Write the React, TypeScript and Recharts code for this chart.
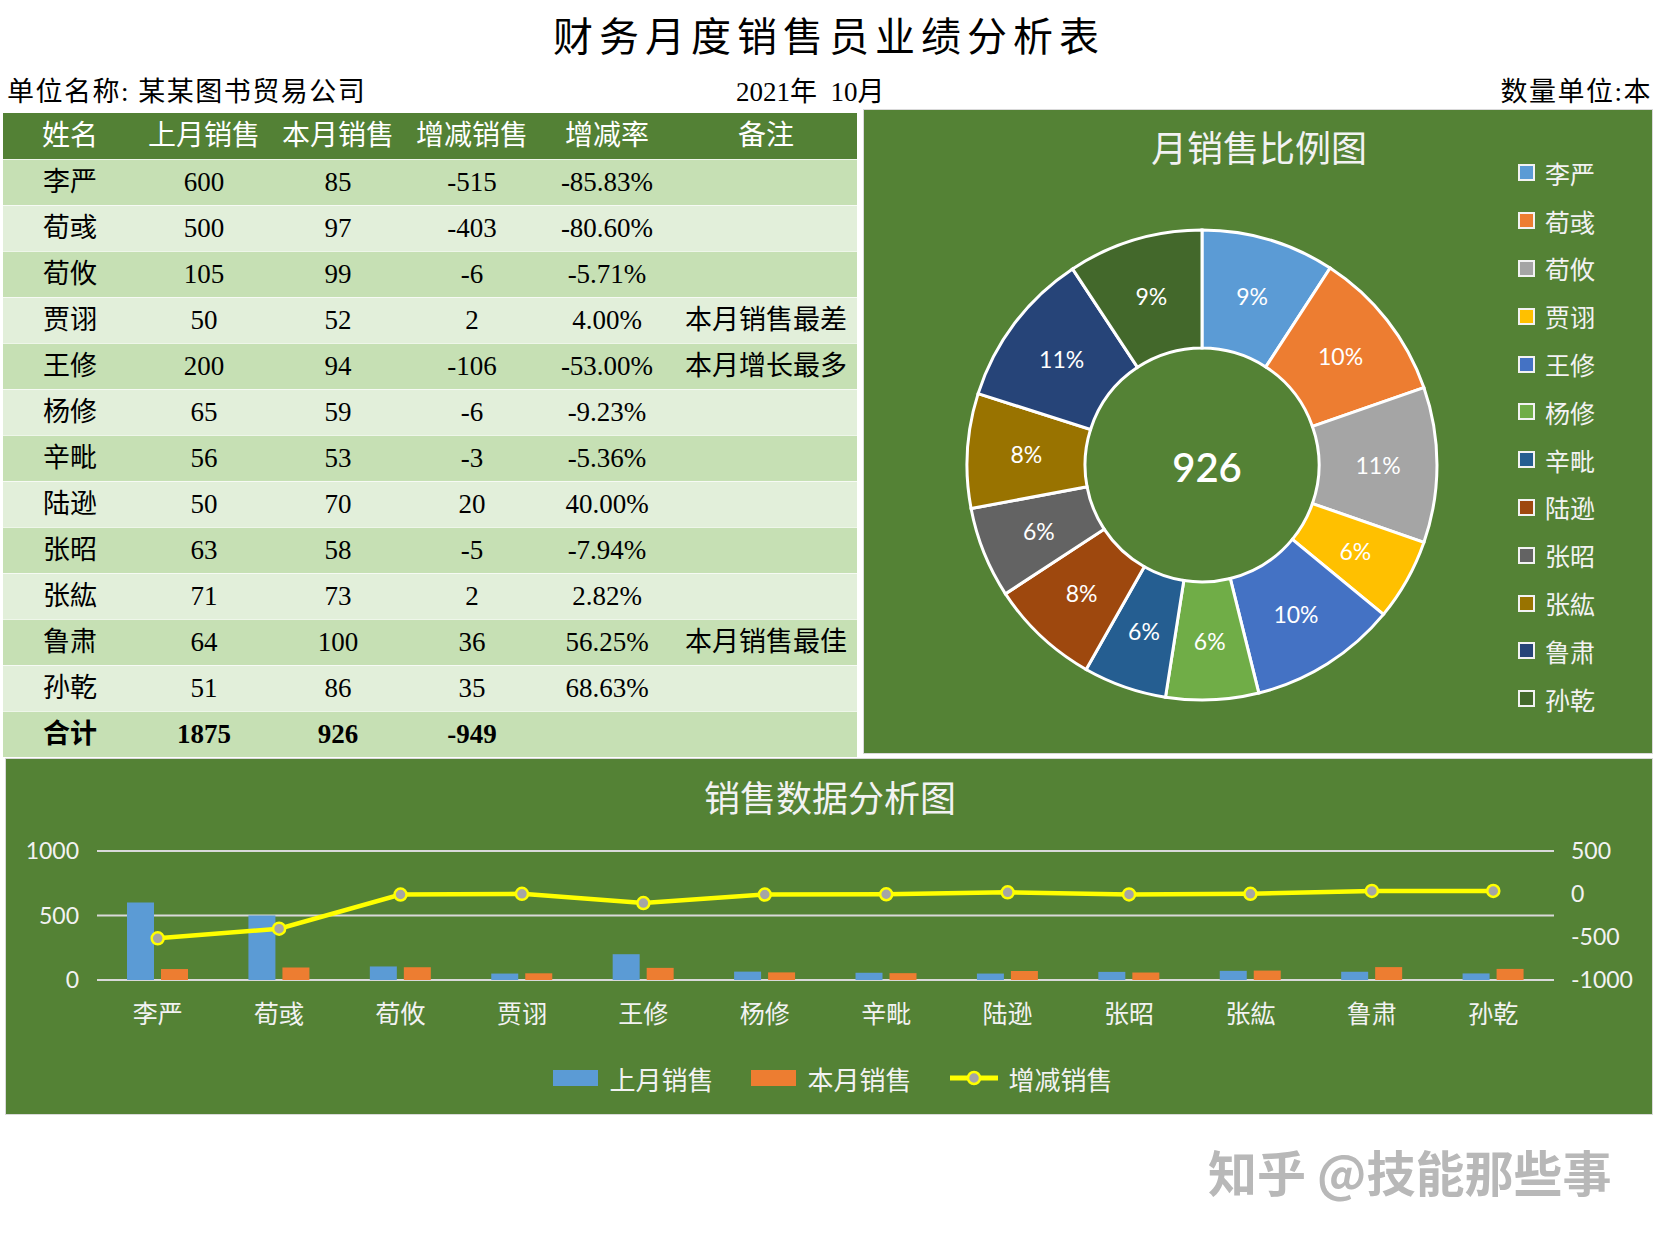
import React from 'react';
import { PieChart, Pie, Cell, ComposedChart, Bar, Line, XAxis, YAxis, CartesianGrid, Legend } from 'recharts';

const names = ['李严', '荀彧', '荀攸', '贾诩', '王修', '杨修', '辛毗', '陆逊', '张昭', '张紘', '鲁肃', '孙乾'];
const lastMonth = [600, 500, 105, 50, 200, 65, 56, 50, 63, 71, 64, 51];
const thisMonth = [85, 97, 99, 52, 94, 59, 53, 70, 58, 73, 100, 86];
const change = [-515, -403, -6, 2, -106, -6, -3, 20, -5, 2, 36, 35];
const changeRate = ['-85.83%', '-80.60%', '-5.71%', '4.00%', '-53.00%', '-9.23%', '-5.36%', '40.00%', '-7.94%', '2.82%', '56.25%', '68.63%'];
const notes = ['', '', '', '本月销售最差', '本月增长最多', '', '', '', '', '', '本月销售最佳', ''];
const totalRow = ['合计', '1875', '926', '-949', '', ''];
const headers = ['姓名', '上月销售', '本月销售', '增减销售', '增减率', '备注'];
const leftTicks = [0, 500, 1000];
const rightTicks = [-1000, -500, 0, 500];

const sliceColors = ['#5b9bd5', '#ed7d31', '#a5a5a5', '#ffc000', '#4472c4', '#70ad47', '#255e91', '#9e480e', '#636363', '#997300', '#264478', '#43682b'];

const pieData = names.map((n, i) => ({ name: n, value: thisMonth[i] }));
const comboData = names.map((n, i) => ({ name: n, last: lastMonth[i], cur: thisMonth[i], diff: change[i] }));

const CHART_FONT = "Lato, 'Noto Sans CJK SC', sans-serif";
const TABLE_FONT = "'Liberation Serif', 'Noto Sans CJK SC', serif";
const PANEL_BG = '#548235';
const colLeft = [3, 137, 271, 405, 539, 675];
const colWidth = [134, 134, 134, 134, 136, 182];
const ROW_H = 46;
const RADIAN = Math.PI / 180;

const renderPct = (p: any) => {
  const r = (p.innerRadius + p.outerRadius) / 2;
  const x = p.cx + r * Math.cos(-p.midAngle * RADIAN);
  const y = p.cy + r * Math.sin(-p.midAngle * RADIAN);
  return (
    <text x={x} y={y} fill="#ffffff" fontSize={23} fontFamily={CHART_FONT} textAnchor="middle" dominantBaseline="central">
      {Math.round(p.percent * 100)}%
    </text>
  );
};

// keep the legend in data order (recharts sorts the payload by default)
const PieLegend = () => (
  <div style={{ fontFamily: CHART_FONT }}>
    {names.map((n, i) => (
      <div key={n} style={{ height: 47.8, display: 'flex', alignItems: 'center' }}>
        <span style={{ width: 13, height: 13, background: sliceColors[i], border: '2px solid #f2f2f2', marginRight: 10 }} />
        <span style={{ color: '#f2f2f2', fontSize: 25 }}>{n}</span>
      </div>
    ))}
  </div>
);

const ComboLegend = () => (
  <div style={{ height: 40, display: 'flex', justifyContent: 'center', alignItems: 'center', fontFamily: CHART_FONT, color: '#f2f2f2', fontSize: 26, paddingLeft: 8 }}>
    <span style={{ width: 45, height: 16, background: '#5b9bd5', marginRight: 11 }} />
    <span style={{ marginRight: 38 }}>上月销售</span>
    <span style={{ width: 45, height: 16, background: '#ed7d31', marginRight: 11 }} />
    <span style={{ marginRight: 38 }}>本月销售</span>
    <svg width={48} height={20} style={{ marginRight: 11 }}>
      <line x1={0} y1={10} x2={48} y2={10} stroke="#ffff00" strokeWidth={5} />
      <circle cx={24} cy={10} r={6} fill="#a5a5a5" stroke="#ffff00" strokeWidth={2.5} />
    </svg>
    <span>增减销售</span>
  </div>
);

const XTick = (props: any) => (
  <text x={props.x} y={props.y + 33} fill="#f2f2f2" fontSize={25} fontFamily={CHART_FONT} textAnchor="middle" dominantBaseline="central">
    {props.payload.value}
  </text>
);

const rowCells = (i: number) => [names[i], String(lastMonth[i]), String(thisMonth[i]), String(change[i]), changeRate[i], notes[i]];

const App: React.FC = () => {
  return (
    <div style={{ position: 'absolute', left: 0, top: 0, width: 1655, height: 1237, background: '#ffffff', overflow: 'hidden' }}>
      {/* sheet title */}
      <div style={{ position: 'absolute', left: 0, width: 1658, top: 5, textAlign: 'center', fontFamily: TABLE_FONT, fontSize: 40, letterSpacing: 6, color: '#000' }}>
        财务月度销售员业绩分析表
      </div>
      <div style={{ position: 'absolute', left: 7, top: 70, fontFamily: TABLE_FONT, fontSize: 27, letterSpacing: 1.5, color: '#000', whiteSpace: 'pre' }}>单位名称: 某某图书贸易公司</div>
      <div style={{ position: 'absolute', left: 736, top: 70, fontFamily: TABLE_FONT, fontSize: 27, color: '#000', whiteSpace: 'pre' }}>2021年  10月</div>
      <div style={{ position: 'absolute', right: 3, top: 70, fontFamily: TABLE_FONT, fontSize: 27, letterSpacing: 1.5, color: '#000' }}>数量单位:本</div>

      {/* table */}
      <div style={{ position: 'absolute', left: 3, top: 113, width: 854, height: ROW_H, background: '#538135' }} />
      {headers.map((h, c) => (
        <div key={h} style={{ position: 'absolute', left: colLeft[c], top: 113, width: colWidth[c], height: ROW_H, lineHeight: ROW_H + 'px', textAlign: 'center', color: '#ffffff', fontFamily: TABLE_FONT, fontSize: 28 }}>{h}</div>
      ))}
      {names.map((_, r) => (
        <div key={r} style={{ position: 'absolute', left: 3, top: 113 + ROW_H * (r + 1), width: 854, height: ROW_H, background: r % 2 === 0 ? '#c6e0b4' : '#e2efda', borderTop: '1px solid rgba(255,255,255,0.7)', boxSizing: 'border-box' }}>
          {rowCells(r).map((t, c) => (
            <div key={c} style={{ position: 'absolute', left: colLeft[c] - 3, top: 0, width: colWidth[c], height: ROW_H, lineHeight: ROW_H - 1 + 'px', textAlign: 'center', color: '#000', fontFamily: TABLE_FONT, fontSize: 27, whiteSpace: 'nowrap' }}>{t}</div>
          ))}
        </div>
      ))}
      <div style={{ position: 'absolute', left: 3, top: 113 + ROW_H * 13, width: 854, height: ROW_H, background: '#c6e0b4', borderTop: '1px solid rgba(255,255,255,0.7)', boxSizing: 'border-box' }}>
        {totalRow.map((t, c) => (
          <div key={c} style={{ position: 'absolute', left: colLeft[c] - 3, top: 0, width: colWidth[c], height: ROW_H, lineHeight: ROW_H - 1 + 'px', textAlign: 'center', color: '#000', fontFamily: TABLE_FONT, fontSize: 27, fontWeight: 'bold' }}>{t}</div>
        ))}
      </div>

      {/* donut panel */}
      <div style={{ position: 'absolute', left: 863, top: 109, width: 790, height: 645, background: PANEL_BG, border: '1px solid #d9d9d9', boxSizing: 'border-box' }}>
        <div style={{ position: 'absolute', left: 0, width: 790, top: 10, textAlign: 'center', color: '#f2f2f2', fontFamily: CHART_FONT, fontSize: 36 }}>月销售比例图</div>
        <PieChart width={788} height={643} style={{ position: 'absolute', left: 0, top: 0 }}>
          <Pie data={pieData} dataKey="value" nameKey="name" cx={333} cy={350} innerRadius={117} outerRadius={235} startAngle={90} endAngle={-270} stroke="#ffffff" strokeWidth={3} label={renderPct} labelLine={false} isAnimationActive={false}>
            {pieData.map((d, i) => (
              <Cell key={d.name} fill={sliceColors[i]} />
            ))}
          </Pie>
          <text x={343} y={357} fill="#ffffff" fontSize={40} fontWeight={600} fontFamily={CHART_FONT} textAnchor="middle" dominantBaseline="central">
            {thisMonth.reduce((a, b) => a + b, 0)}
          </text>
          <Legend content={<PieLegend />} layout="vertical" wrapperStyle={{ position: 'absolute', left: 654, top: 39, width: 120 }} />
        </PieChart>
      </div>

      {/* combo panel */}
      <div style={{ position: 'absolute', left: 5, top: 758, width: 1648, height: 357, background: PANEL_BG, border: '1px solid #d9d9d9', boxSizing: 'border-box' }}>
        <div style={{ position: 'absolute', left: 0, width: 1648, top: 11, textAlign: 'center', color: '#f2f2f2', fontFamily: CHART_FONT, fontSize: 36 }}>销售数据分析图</div>
        <ComposedChart width={1646} height={355} data={comboData} margin={{ top: 92, right: 0, bottom: 16, left: 0 }} barSize={27} barGap={7} style={{ position: 'absolute', left: 0, top: 0 }}>
          <CartesianGrid yAxisId="left" vertical={false} stroke="#d9d9d9" strokeWidth={2} />
          <XAxis dataKey="name" height={78} axisLine={false} tickLine={false} tickSize={0} tickMargin={0} tick={<XTick />} interval={0} />
          <YAxis yAxisId="left" orientation="left" width={91} domain={[0, 1000]} ticks={leftTicks} axisLine={false} tickLine={false} tickSize={0} tickMargin={18} tick={{ fill: '#f2f2f2', fontSize: 23, fontFamily: CHART_FONT }} />
          <YAxis yAxisId="right" orientation="right" width={98} domain={[-1000, 500]} ticks={rightTicks} axisLine={false} tickLine={false} tickSize={0} tickMargin={17} tick={{ fill: '#f2f2f2', fontSize: 23, fontFamily: CHART_FONT }} />
          <Bar yAxisId="left" dataKey="last" name="上月销售" fill="#5b9bd5" isAnimationActive={false} />
          <Bar yAxisId="left" dataKey="cur" name="本月销售" fill="#ed7d31" isAnimationActive={false} />
          <Line yAxisId="right" type="linear" dataKey="diff" name="增减销售" stroke="#ffff00" strokeWidth={4.5} dot={{ r: 6, fill: '#a5a5a5', stroke: '#ffff00', strokeWidth: 2.5 }} isAnimationActive={false} />
          <Legend verticalAlign="bottom" content={<ComboLegend />} />
        </ComposedChart>
      </div>

      {/* watermark */}
      <div style={{ position: 'absolute', left: 1208, top: 1135, fontFamily: "'Noto Sans CJK SC', sans-serif", fontSize: 49, fontWeight: 'bold', color: '#b8b8b8', whiteSpace: 'nowrap' }}>知乎 @技能那些事</div>
    </div>
  );
};

export default App;
